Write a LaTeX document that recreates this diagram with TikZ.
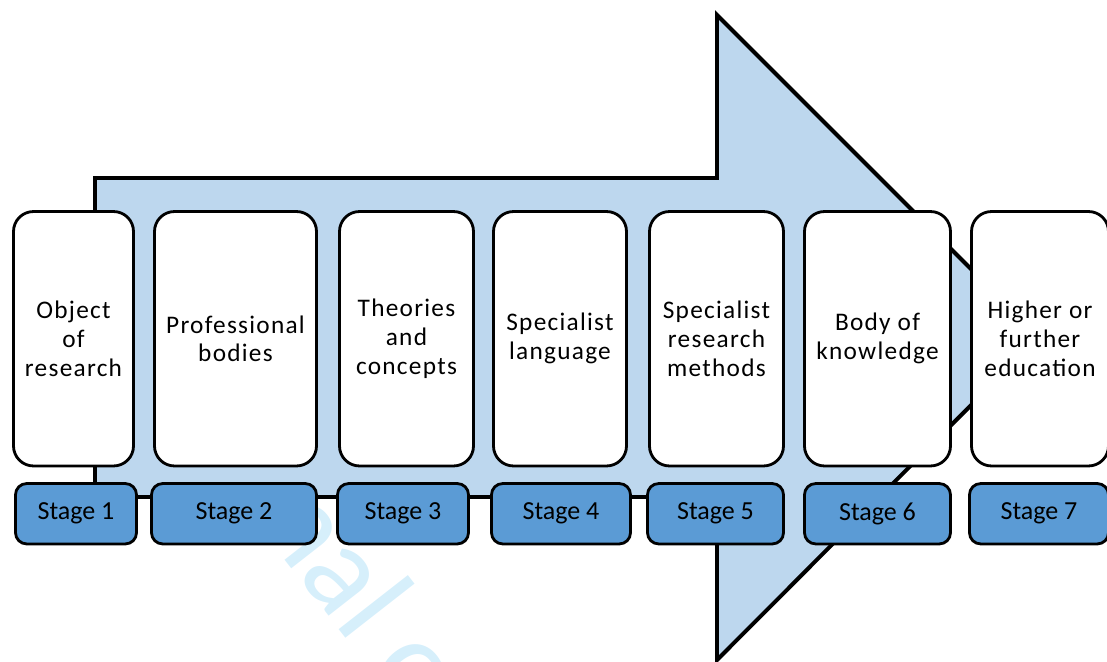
\documentclass[tikz,border=0pt]{standalone}
\usepackage{fontspec}
\setmainfont{Carlito}
\definecolor{arrowblue}{RGB}{189,215,238}
\definecolor{stageblue}{RGB}{91,155,213}
\definecolor{wmcyan}{RGB}{214,239,251}
\begin{document}
\begin{tikzpicture}[x=0.025cm, y=-0.025cm, line join=miter,
    box/.style={draw=black, line width=2pt, fill=white, rounded corners=0.5cm, align=center, inner sep=2pt, font=\fontsize{18}{20.5}\selectfont\addfontfeature{LetterSpace=5}},
    stagebox/.style={draw=black, line width=2pt, fill=stageblue, rounded corners=0.28cm, inner sep=2pt, font=\fontsize{18.5}{22}\selectfont}]
    \useasboundingbox (0,0) rectangle (1107,662);
    % faint watermark behind everything
    \node[anchor=base west, rotate=-52, inner sep=0pt, text=wmcyan, font=\fontsize{90}{90}\selectfont] (wm) at (255,522) {nal o};
    % the big arrow
    \draw[line width=2.8pt, fill=arrowblue] (95,178) -- (717,178) -- (717,15) -- (1039,337) -- (717,660) -- (717,497) -- (95,497) -- cycle;
    % boxes and stages
    \foreach \i/\a/\b/\c/\d/\txt in {1/12/135/14/138/{Object\\of\\research},
        2/153/318/150/318/{Professional\\bodies},
        3/338/475/336/470/{Theories\\and\\concepts},
        4/492/628/490/632/{Specialist\\language},
        5/648/785/646/785/{Specialist\\research\\methods},
        6/803/952/803/952/{Body of\\knowledge},
        7/970/1110/968/1110/{Higher or\\further\\education}}{
        \node[box, minimum width={(\b-\a-3)*0.025cm}, minimum height=6.36cm] (t\i) at ({(\a+\b)/2},338.75) {\txt};
        \node[stagebox, minimum width={(\d-\c-3)*0.025cm}, minimum height=1.51cm] (s\i) at ({(\c+\d)/2},513.75) {Stage \i};
    }
\end{tikzpicture}
\end{document}
